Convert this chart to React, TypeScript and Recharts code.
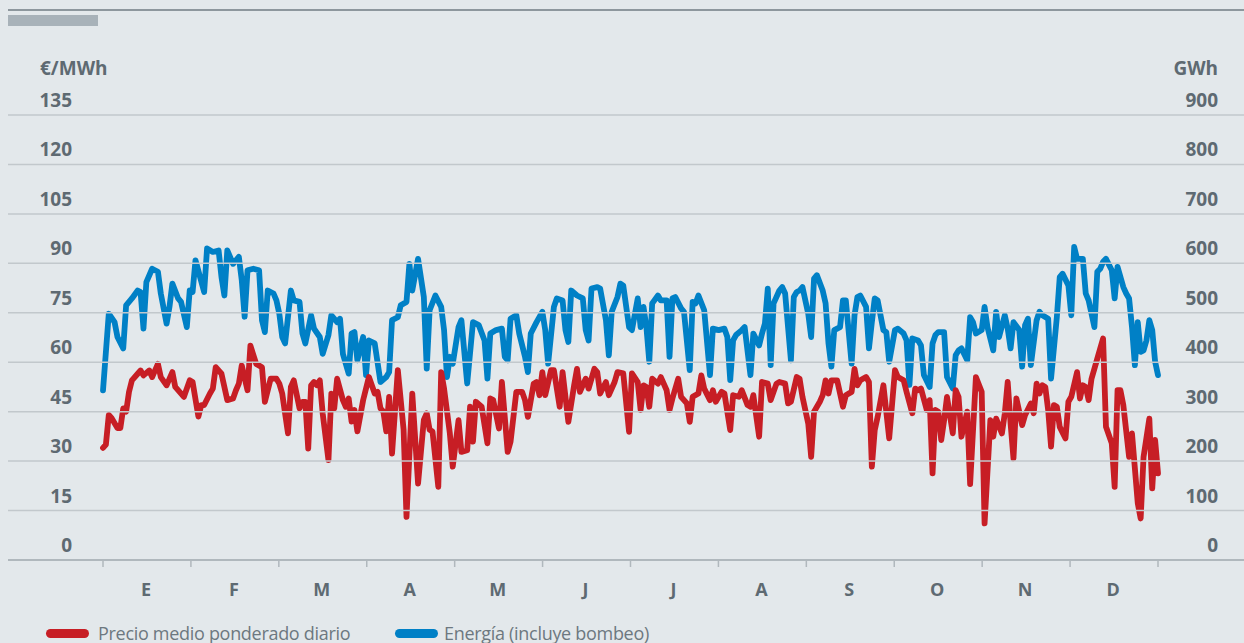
import React from 'react';
import { LineChart, Line, XAxis, YAxis } from 'recharts';

// días del año (0 = 1 de enero) y valores
const priceDays = [
  0, 1, 2, 3, 5, 6, 7, 8, 9, 10, 12, 13, 14, 16, 17, 19, 20, 22, 24, 25, 28, 30, 31, 33, 34, 35, 37, 38, 39, 41,
  43, 45, 46, 47, 48, 50, 51, 53, 55, 56, 58, 60, 61, 62, 64, 65, 66, 68, 69, 70, 71, 72, 73, 74, 75, 76, 78, 79,
  80, 81, 83, 84, 85, 86, 87, 88, 90, 92, 94, 95, 96, 97, 98, 99, 100, 102, 104, 105, 107, 109, 111, 112, 113, 114,
  116, 117, 118, 120, 121, 123, 124, 126, 127, 128, 129, 131, 133, 134, 135, 137, 138, 140, 141, 143, 145, 146, 147,
  149, 150, 151, 152, 153, 155, 156, 158, 159, 161, 163, 164, 165, 167, 168, 170, 171, 172, 174, 175, 177, 178, 180,
  182, 183, 185, 186, 187, 188, 189, 190, 192, 193, 195, 196, 197, 199, 200, 202, 203, 204, 206, 207, 208, 210, 211,
  212, 214, 215, 217, 218, 220, 221, 223, 224, 225, 227, 228, 230, 231, 233, 234, 236, 237, 238, 240, 241, 242, 244,
  245, 246, 248, 249, 250, 251, 252, 254, 256, 257, 259, 260, 261, 262, 264, 265, 266, 267, 268, 270, 272, 274, 275,
  277, 278, 280, 281, 282, 283, 285, 286, 287, 288, 289, 290, 291, 292, 294, 295, 296, 297, 299, 300, 302, 304, 305,
  307, 308, 309, 311, 312, 313, 314, 315, 316, 318, 319, 321, 322, 323, 324, 325, 326, 327, 328, 329, 330, 331, 333,
  334, 335, 337, 338, 339, 340, 341, 342, 344, 346, 347, 349, 350, 351, 352, 353, 355, 356, 358, 359, 360, 362, 363,
  364, 365,
];
const priceValues = [
  34, 35, 44, 43, 40, 40, 46, 45, 51, 54.5, 56.5, 57.5, 56, 57.5, 55.5, 59.5, 55.5, 53, 57, 52.5, 49.5, 54.5, 54, 43.5,
  47, 47, 50.5, 52, 58.5, 56.5, 48.5, 49, 51.5, 53.5, 59, 51.5, 65, 59.5, 58.5, 48, 55, 55, 53.5, 50.5, 38.4, 52.5,
  54.5, 46, 48, 48, 33.8, 53, 54, 53, 54.5, 44.5, 30.3, 50.5, 46, 55, 48.5, 46.5, 49, 42, 45.5, 39, 48.5, 55.5, 50.5,
  51, 46, 45, 39, 49.5, 32.3, 57.6, 39.5, 13.1, 50.5, 23.2, 42.5, 44.5, 39.5, 39, 22.2, 57, 52, 38.4, 28.3, 42.4, 32.8,
  33.3, 46.5, 35.9, 48, 46.5, 35.4, 49, 48.5, 39.9, 54, 32.8, 35.9, 51, 51, 48.5, 43.4, 53.5, 54, 50, 57, 50, 57.6,
  57.6, 46.5, 57, 41.9, 53, 58, 51, 55, 52, 58, 57, 50.5, 54, 50, 54, 57, 56.6, 38.9, 56.6, 54, 45.5, 53, 52.5, 46.5,
  55, 53.5, 55.5, 51.5, 45.5, 49, 55, 49.5, 47.5, 41.9, 49.5, 50.5, 56, 52, 48.5, 51.5, 48, 51, 50.5, 39.4, 50, 49.5,
  51.5, 47, 46.5, 50, 37.4, 54, 53.5, 48.5, 53.5, 54, 53.5, 47.5, 48, 55.5, 55, 49.5, 41.4, 31.3, 45, 48, 50, 54.5,
  50.5, 54.5, 54.5, 46.5, 50, 51, 58, 53, 54.5, 55.5, 54, 28.3, 39.4, 43.4, 53, 36.9, 57.6, 55.5, 54.5, 51, 44.5, 52,
  51.5, 52, 45.5, 48.5, 26.3, 45.5, 45, 36.4, 42.4, 49.5, 38.4, 51.5, 49.5, 37.4, 45, 23, 55.5, 51, 11.1, 42.4, 37.4,
  42.9, 38.4, 44.5, 54, 41.4, 30.8, 49, 40.9, 43.9, 47.5, 44.5, 53.5, 50.5, 53, 52.5, 45.5, 34.4, 47, 46.5, 40.4,
  36.9, 48, 49.5, 57, 49, 53, 52.5, 48.5, 55, 61.1, 67.2, 40.4, 35.4, 22.2, 51.5, 51.5, 47, 31.3, 38.4, 17.2, 12.6,
  31.3, 42.9, 21.7, 36.4, 26.3,
];

const energyDays = [
  0, 2, 4, 5, 7, 8, 10, 12, 13, 14, 15, 17, 19, 20, 22, 23, 24, 26, 27, 29, 30, 31, 32, 35, 36, 38, 40, 41, 42, 43,
  45, 47, 48, 49, 50, 52, 54, 55, 56, 57, 59, 60, 61, 62, 63, 65, 66, 68, 69, 70, 72, 73, 75, 76, 78, 79, 81, 82, 83,
  85, 86, 87, 88, 90, 91, 92, 94, 96, 98, 99, 100, 102, 103, 105, 106, 107, 109, 111, 112, 113, 115, 117, 118, 119,
  120, 121, 123, 124, 126, 128, 130, 132, 133, 134, 136, 138, 139, 140, 141, 143, 144, 146, 147, 148, 150, 152, 153,
  154, 156, 157, 159, 160, 161, 162, 164, 166, 167, 168, 169, 171, 172, 174, 175, 176, 178, 179, 180, 182, 183, 185,
  186, 187, 188, 189, 190, 192, 193, 195, 196, 197, 198, 200, 201, 203, 204, 205, 206, 208, 210, 211, 213, 215, 216,
  217, 218, 219, 221, 222, 224, 225, 227, 228, 229, 230, 231, 232, 234, 235, 236, 238, 239, 240, 241, 242, 244, 245,
  246, 247, 249, 250, 251, 252, 253, 255, 256, 257, 259, 260, 261, 262, 264, 265, 266, 267, 268, 270, 271, 272, 274,
  275, 277, 278, 279, 280, 282, 283, 284, 286, 287, 288, 289, 291, 292, 294, 295, 296, 297, 299, 300, 301, 302, 304,
  305, 306, 308, 309, 310, 312, 313, 314, 315, 317, 318, 319, 320, 321, 323, 324, 325, 327, 328, 330, 331, 332, 334,
  335, 336, 337, 339, 340, 341, 343, 344, 345, 346, 347, 349, 350, 351, 353, 354, 355, 356, 357, 358, 359, 360, 361,
  362, 363, 364, 365,
];
const energyValues = [
  343, 498, 481, 451, 428, 515, 529, 545, 542, 468, 562, 589, 583, 539, 478, 512, 559, 529, 522, 471, 545, 542, 606,
  542, 630, 623, 626, 572, 535, 626, 599, 613, 566, 492, 586, 589, 586, 485, 461, 545, 539, 525, 498, 451, 438, 545,
  525, 522, 458, 438, 495, 468, 451, 417, 455, 495, 481, 488, 417, 377, 458, 461, 404, 451, 374, 444, 438, 360, 370,
  380, 485, 491, 515, 522, 599, 545, 609, 532, 387, 505, 535, 512, 465, 370, 411, 397, 471, 485, 357, 481, 475, 444,
  367, 458, 465, 468, 411, 404, 488, 495, 458, 411, 380, 458, 481, 502, 465, 397, 512, 529, 525, 465, 441, 545, 535,
  529, 465, 444, 549, 552, 549, 485, 414, 502, 532, 559, 555, 471, 465, 529, 471, 512, 471, 401, 519, 535, 525, 525,
  411, 529, 532, 509, 502, 384, 522, 519, 535, 505, 374, 468, 465, 468, 451, 364, 444, 455, 465, 471, 374, 458, 434,
  458, 478, 549, 394, 519, 545, 552, 539, 404, 532, 542, 545, 552, 498, 451, 569, 576, 545, 519, 438, 391, 465, 471,
  525, 525, 397, 495, 532, 535, 512, 428, 481, 529, 525, 465, 461, 401, 465, 468, 458, 444, 354, 448, 444, 434, 374,
  350, 438, 455, 461, 461, 370, 347, 414, 424, 428, 404, 491, 481, 458, 465, 512, 471, 424, 502, 451, 495, 468, 428,
  481, 465, 391, 475, 488, 394, 485, 502, 495, 488, 367, 491, 572, 579, 555, 495, 633, 609, 609, 539, 525, 471, 583,
  589, 603, 609, 586, 529, 593, 552, 539, 529, 471, 394, 481, 421, 424, 444, 485, 465, 401, 374,
];

const months = ['E', 'F', 'M', 'A', 'M', 'J', 'J', 'A', 'S', 'O', 'N', 'D'];
const priceTicks = [0, 15, 30, 45, 60, 75, 90, 105, 120, 135];
const energyTicks = [0, 100, 200, 300, 400, 500, 600, 700, 800, 900];

const YEAR = 365;
const monthEdges = months.map((_, i) => (i * YEAR) / 12).concat([YEAR]);
const monthMids = months.map((_, i) => ((i + 0.5) * YEAR) / 12);

const priceData = priceDays.map((d, i) => ({ day: d, precio: priceValues[i] }));
const energyData = energyDays.map((d, i) => ({ day: d, energia: energyValues[i] }));

const BG = '#e3e8eb';
const GRID = '#c2c8cc';
const AXIS = '#b0b8bd';
const TEXT = '#5e6a72';
const RED = '#c71e25';
const BLUE = '#0080c6';
const FONT = '"Open Sans", "DejaVu Sans", sans-serif';

const W = 1236;
const H = 600;

function LeftTick(props: any) {
  const { y, payload } = props;
  const zero = payload.value === 0;
  return (
    <g>
      <line x1={0} x2={W} y1={y} y2={y} stroke={zero ? AXIS : GRID} strokeWidth={zero ? 2 : 1.5} />
      <text x={64} y={y - 8} textAnchor="end" fill={TEXT} fontSize={19} fontWeight={700} fontFamily={FONT}>
        {payload.value}
      </text>
    </g>
  );
}

function RightTick(props: any) {
  const { y, payload } = props;
  return (
    <text x={1210} y={y - 8} textAnchor="end" fill={TEXT} fontSize={19} fontWeight={700} fontFamily={FONT}>
      {payload.value}
    </text>
  );
}

function MonthTick(props: any) {
  const { x, payload } = props;
  const i = Math.floor((payload.value * 12) / YEAR);
  return (
    <text x={x - 1} y={596} textAnchor="middle" fill={TEXT} fontSize={18} fontWeight={700} fontFamily={FONT}>
      {months[i]}
    </text>
  );
}

function LegendItem({ color, label, left, gap }: { color: string; label: string; left: number; gap: number }) {
  return (
    <div style={{ position: 'absolute', left, top: 621, display: 'flex', alignItems: 'center', whiteSpace: 'nowrap' }}>
      <div style={{ width: 43, height: 9, borderRadius: 5, background: color, marginRight: gap }} />
      <span style={{ fontFamily: FONT, fontSize: 18, color: '#6d7880', letterSpacing: -0.3 }}>{label}</span>
    </div>
  );
}

export default function App() {
  return (
    <div style={{ position: 'absolute', left: 0, top: 0, width: 1244, height: 643, background: BG, overflow: 'hidden' }}>
      <div style={{ position: 'absolute', left: 8, top: 9, width: 1236, height: 2, background: '#8d979d' }} />
      <div style={{ position: 'absolute', left: 8, top: 15, width: 90, height: 11, background: '#a8b2b9' }} />
      <div
        style={{ position: 'absolute', left: 40, top: 55, fontFamily: FONT, fontSize: 19, fontWeight: 700, color: TEXT }}
      >
        €/MWh
      </div>
      <div
        style={{
          position: 'absolute',
          right: 26,
          top: 55,
          fontFamily: FONT,
          fontSize: 19,
          fontWeight: 700,
          color: TEXT,
        }}
      >
        GWh
      </div>
      <div style={{ position: 'absolute', left: 8, top: 0 }}>
        <LineChart width={W} height={H} margin={{ top: 115, right: 0, bottom: 10, left: 0 }}>
          <XAxis
            xAxisId="edges"
            dataKey="day"
            type="number"
            domain={[0, YEAR]}
            ticks={monthEdges}
            interval={0}
            axisLine={false}
            tickLine={{ stroke: AXIS, strokeWidth: 1.5 }}
            tickSize={7}
            tickFormatter={() => ''}
            height={15}
          />
          <XAxis
            xAxisId="months"
            dataKey="day"
            type="number"
            domain={[0, YEAR]}
            ticks={monthMids}
            interval={0}
            axisLine={false}
            tickLine={false}
            tick={MonthTick}
            height={15}
          />
          <YAxis
            yAxisId="precio"
            orientation="left"
            domain={[0, 135]}
            ticks={priceTicks}
            interval={0}
            width={95}
            axisLine={false}
            tickLine={false}
            tick={LeftTick}
          />
          <YAxis
            yAxisId="energia"
            orientation="right"
            domain={[0, 900]}
            ticks={energyTicks}
            interval={0}
            width={86}
            axisLine={false}
            tickLine={false}
            tick={RightTick}
          />
          <Line
            xAxisId="edges"
            yAxisId="energia"
            data={energyData}
            dataKey="energia"
            stroke={BLUE}
            strokeWidth={5.8}
            strokeLinejoin="round"
            strokeLinecap="round"
            dot={false}
            isAnimationActive={false}
          />
          <Line
            xAxisId="months"
            yAxisId="precio"
            data={priceData}
            dataKey="precio"
            stroke={RED}
            strokeWidth={5.8}
            strokeLinejoin="round"
            strokeLinecap="round"
            dot={false}
            isAnimationActive={false}
          />
        </LineChart>
      </div>
      <LegendItem color={RED} label="Precio medio ponderado diario" left={46} gap={9} />
      <LegendItem color={BLUE} label="Energía (incluye bombeo)" left={395} gap={6} />
    </div>
  );
}
